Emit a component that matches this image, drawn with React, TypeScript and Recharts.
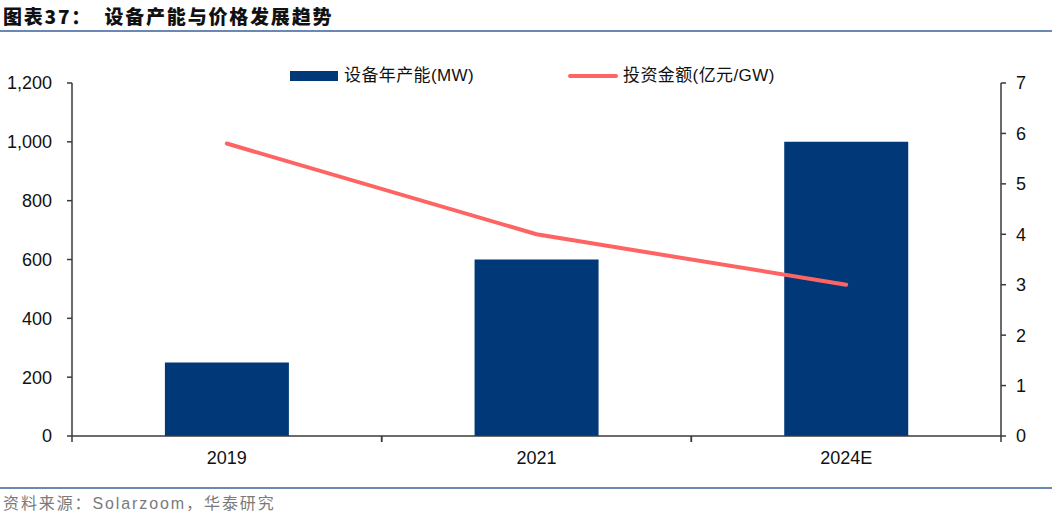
import React from "react";
import { ComposedChart, Bar, Line, XAxis, YAxis, Legend } from "recharts";

// 设备产能与价格发展趋势
const years = ["2019", "2021", "2024E"];
const capacityMW = [250, 600, 1000];
const investYiPerGW = [5.8, 4.0, 3.0];
const leftTicks = [0, 200, 400, 600, 800, 1000, 1200];
const rightTicks = [0, 1, 2, 3, 4, 5, 6, 7];

const data = years.map((year, i) => ({
  year,
  capacity: capacityMW[i],
  invest: investYiPerGW[i],
}));

const W = 1052;
const H = 518;
const MARGIN = { top: 83, right: 11, bottom: 52, left: 12 };
const LEFT_W = 60;
const RIGHT_W = 40;
const PLOT_W = W - MARGIN.left - MARGIN.right - LEFT_W - RIGHT_W;
const BAND = PLOT_W / years.length;

const BAR_COLOR = "#003878";
const LINE_COLOR = "#FF6464";
const AXIS_COLOR = "#3a3a3a";
const RULE_COLOR = "#6B88B4";
const LATIN = "'Liberation Sans', Arial, sans-serif";
const CJK = "'Liberation Sans', 'Noto Sans CJK SC', sans-serif";

const XTick = (props: any) => {
  const { x, y, payload } = props;
  const half = BAND / 2;
  return (
    <g>
      <line x1={x - half} x2={x - half} y1={y} y2={y + 6} stroke={AXIS_COLOR} strokeWidth={1.5} />
      <line x1={x + half} x2={x + half} y1={y} y2={y + 6} stroke={AXIS_COLOR} strokeWidth={1.5} />
      <text x={x} y={y + 28} textAnchor="middle" fontSize={18} fill="#111" fontFamily={LATIN}>
        {payload.value}
      </text>
    </g>
  );
};

const LegendContent = () => (
  <div
    style={{
      position: "relative",
      height: 24,
      fontSize: 17,
      lineHeight: "24px",
      letterSpacing: 0.4,
      color: "#111",
      fontFamily: CJK,
    }}
  >
    <div style={{ position: "absolute", left: 290, top: 7, width: 48, height: 10, background: BAR_COLOR }} />
    <span style={{ position: "absolute", left: 344, top: 0, whiteSpace: "nowrap" }}>设备年产能(MW)</span>
    <div style={{ position: "absolute", left: 568, top: 10, width: 50, height: 4, borderRadius: 2, background: LINE_COLOR }} />
    <span style={{ position: "absolute", left: 623, top: 0, whiteSpace: "nowrap" }}>投资金额(亿元/GW)</span>
  </div>
);

export default function App() {
  return (
    <div style={{ position: "absolute", left: 0, top: 0, width: W, height: H, background: "#fff", fontFamily: LATIN }}>
      <div
        style={{
          position: "absolute",
          left: 3,
          top: 3,
          fontSize: 19,
          lineHeight: "26px",
          fontWeight: 900,
          letterSpacing: 1.8,
          color: "#111",
          fontFamily: "'Noto Sans CJK SC', sans-serif",
          whiteSpace: "pre",
        }}
      >
        {"图表37：  设备产能与价格发展趋势"}
      </div>
      <div style={{ position: "absolute", left: 0, top: 30, width: W, height: 2, background: RULE_COLOR }} />

      <ComposedChart width={W} height={H} data={data} margin={MARGIN} barCategoryGap="30%">
        <XAxis
          dataKey="year"
          height={30}
          stroke={AXIS_COLOR}
          strokeWidth={1.5}
          tickLine={false}
          tickSize={0}
          tickMargin={0}
          interval={0}
          tick={<XTick />}
        />
        <YAxis
          yAxisId="left"
          width={LEFT_W}
          domain={[0, 1200]}
          ticks={leftTicks}
          interval={0}
          tickFormatter={(v: number) => v.toLocaleString("en-US")}
          stroke={AXIS_COLOR}
          strokeWidth={1.5}
          tickSize={5}
          tickMargin={15}
          tick={{ fontSize: 18, fill: "#111", fontFamily: LATIN }}
        />
        <YAxis
          yAxisId="right"
          orientation="right"
          width={RIGHT_W}
          domain={[0, 7]}
          ticks={rightTicks}
          interval={0}
          stroke={AXIS_COLOR}
          strokeWidth={1.5}
          tickSize={5}
          tickMargin={10}
          tick={{ fontSize: 18, fill: "#111", fontFamily: LATIN }}
        />
        <Legend
          verticalAlign="middle"
          align="center"
          layout="horizontal"
          wrapperStyle={{ top: 64, left: 0, width: W, height: 24 }}
          content={<LegendContent />}
        />
        <Bar yAxisId="left" dataKey="capacity" name="设备年产能(MW)" fill={BAR_COLOR} isAnimationActive={false} />
        <Line
          yAxisId="right"
          type="linear"
          dataKey="invest"
          name="投资金额(亿元/GW)"
          stroke={LINE_COLOR}
          strokeWidth={4}
          strokeLinecap="round"
          dot={false}
          activeDot={false}
          isAnimationActive={false}
        />
      </ComposedChart>

      <div style={{ position: "absolute", left: 0, top: 487, width: W, height: 2, background: RULE_COLOR }} />
      <div
        style={{
          position: "absolute",
          left: 3,
          top: 492,
          fontSize: 16,
          lineHeight: "24px",
          letterSpacing: 1.9,
          color: "#7a7a7a",
          fontFamily: CJK,
          whiteSpace: "nowrap",
        }}
      >
        资料来源：Solarzoom，华泰研究
      </div>
    </div>
  );
}
